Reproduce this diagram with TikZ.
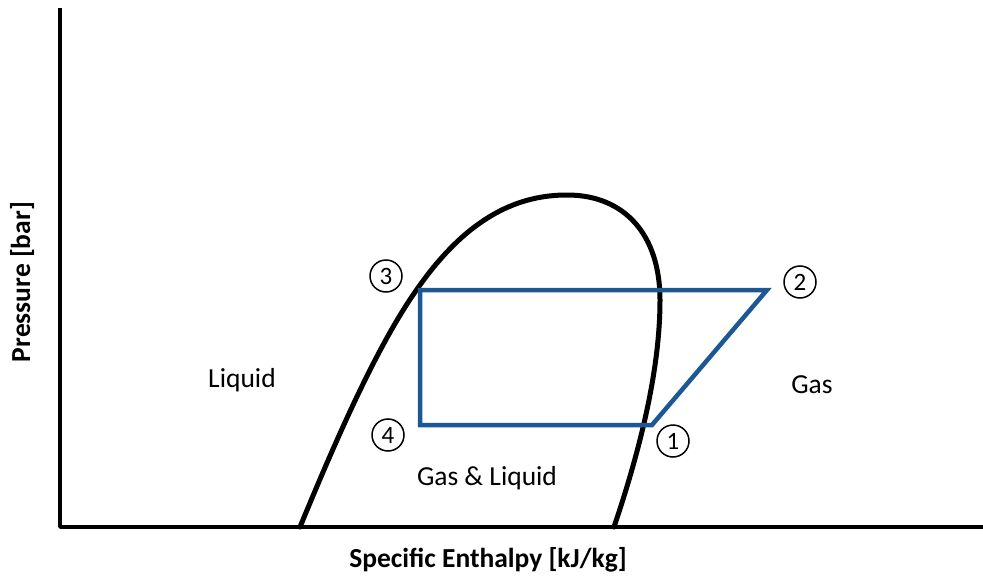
\documentclass[tikz,border=0pt]{standalone}
\usepackage{fontspec}
\setmainfont{Carlito}
\usepackage{tikz}

\begin{document}
\begin{tikzpicture}[
                axis/.style={
                    line width=3.5pt,
                    line join=round
                },
                dome/.style={
                    line width=5pt,
                    line cap=round
                },
                cycle/.style={
                    draw=cyclecol,
                    line width=4.5pt,
                    line join=miter
                },
                state/.style={
                    circle,
                    draw=black,
                    line width=1.5pt,
                    inner sep=0pt,
                    minimum size=32pt,
                    font=\fontsize{25}{28}\selectfont
                },
                region/.style={
                    font=\fontsize{27.5}{32}\selectfont
                },
                axlabel/.style={
                    font=\fontsize{27.5}{32}\selectfont\bfseries
                },
                x=1pt,
                y=-1pt
            ]

        \definecolor{cyclecol}{RGB}{28,88,148}
        \useasboundingbox (0,0) rectangle (983,578);

        % Axes
        \coordinate (top) at (60,8);
        \coordinate (origin) at (60,527);
        \coordinate (right) at (983,527);
        \draw[axis] (top) -- (origin) -- (right);

        % Saturation dome
        \draw[dome] (300,527) .. controls (340,430) and (380,340) .. (420,285)
            .. controls (470,215) and (520,195) .. (567,195)
            .. controls (625,195) and (660,235) .. (660,300)
            .. controls (660,370) and (640,450) .. (614,527);

        % Cycle corners
        \coordinate (p1) at (652,425);
        \coordinate (p2) at (767,290);
        \coordinate (p3) at (420,290);
        \coordinate (p4) at (420,425);
        \draw[cycle] (p1) -- (p2) -- (p3) -- (p4) -- cycle;

        % State numbers
        \foreach \n/\x/\y in {1/673/441,2/800/282,3/386/276,4/388/435}
            \node[state] (s\n) at (\x,\y) {\n};

        % Regions
        \node[region] (liquid) at (242,380) {Liquid};
        \node[region] (gas) at (812,385) {Gas};
        \node[region] (mixed) at (487,478) {Gas \& Liquid};

        % Axis labels
        \node[axlabel] (hlabel) at (488,560) {Specific Enthalpy [kJ/kg]};
        \node[axlabel, rotate=90] (plabel) at (22,282) {Pressure [bar]};

            \end{tikzpicture}
\end{document}
